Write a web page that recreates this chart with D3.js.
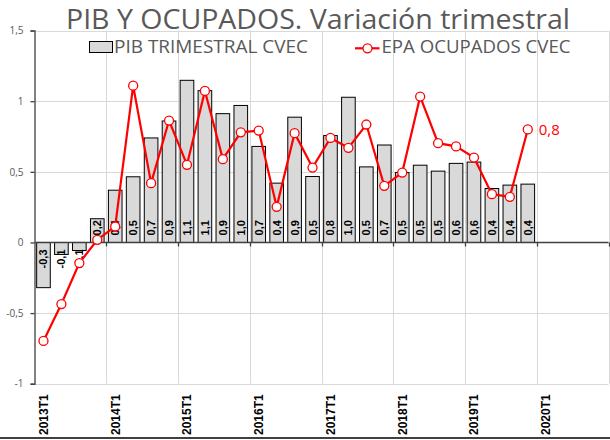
<!DOCTYPE html>
<meta charset="utf-8">
<script src="https://d3js.org/d3.v7.min.js"></script>
<style>
  body { margin: 0; background: white; }
  text { font-family: "Open Sans", sans-serif; }
</style>
<div id="chart"></div>
<script>
  // quarters shown on the axis (2013T1 .. 2020T4)
  const quarters = [
    "2013T1", "2013T2", "2013T3", "2013T4", "2014T1", "2014T2", "2014T3", "2014T4",
    "2015T1", "2015T2", "2015T3", "2015T4", "2016T1", "2016T2", "2016T3", "2016T4",
    "2017T1", "2017T2", "2017T3", "2017T4", "2018T1", "2018T2", "2018T3", "2018T4",
    "2019T1", "2019T2", "2019T3", "2019T4", "2020T1", "2020T2", "2020T3", "2020T4"
  ];
  // PIB trimestral CVEC (bars), 2013T1 .. 2019T4
  const pib = [-0.32, -0.085, -0.057, 0.168, 0.37, 0.465, 0.74, 0.86,
    1.148, 1.075, 0.912, 0.97, 0.68, 0.42, 0.887, 0.467,
    0.757, 1.028, 0.535, 0.69, 0.495, 0.547, 0.505, 0.56,
    0.569, 0.382, 0.406, 0.413];
  // EPA ocupados CVEC (line), 2013T1 .. 2019T4
  const epa = [-0.697, -0.436, -0.146, 0.019, 0.113, 1.11, 0.42, 0.863,
    0.55, 1.073, 0.59, 0.78, 0.792, 0.252, 0.774, 0.53,
    0.74, 0.67, 0.835, 0.401, 0.495, 1.033, 0.703, 0.68,
    0.601, 0.342, 0.323, 0.80];
  const yTicks = [-1, -0.5, 0, 0.5, 1, 1.5];
  const xLabels = ["2013T1", "2014T1", "2015T1", "2016T1", "2017T1", "2018T1", "2019T1", "2020T1"];
  const yearEdges = ["2013T1", "2014T1", "2015T1", "2016T1", "2017T1", "2018T1", "2019T1", "2020T1", null];

  const W = 610, H = 440;
  const es = d3.formatLocale({ decimal: ",", thousands: ".", grouping: [3], currency: ["", " €"], minus: "-" });
  const fmt1 = es.format(".1f");
  const fmtTick = es.format("~g");

  const svg = d3.select("#chart").append("svg")
    .attr("width", W)
    .attr("height", H);

  const x = d3.scaleBand()
    .domain(quarters)
    .range([34.5, 608.5])
    .paddingInner(0.24)
    .paddingOuter(0.12);
  const step = x.step();
  const edge = q => q === null ? x.range()[1] : x(q) - x.paddingOuter() * step + (x.paddingOuter() * step - 0) ;

  const y = d3.scaleLinear()
    .domain([-1, 1.5])
    .range([383.7, 30.6]);

  // year boundary positions
  const bx = q => q === null ? 608.5 : 34.5 + quarters.indexOf(q) * step;

  // horizontal gridlines
  svg.append("g")
    .selectAll("line")
    .data(yTicks)
    .join("line")
    .attr("x1", 34.5).attr("x2", 608.5)
    .attr("y1", d => Math.round(y(d)) + 0.5).attr("y2", d => Math.round(y(d)) + 0.5)
    .attr("stroke", "#d9d9d9");

  // vertical gridlines at year boundaries
  svg.append("g")
    .selectAll("line")
    .data(yearEdges.slice(1))
    .join("line")
    .attr("x1", d => Math.round(bx(d)) + 0.5).attr("x2", d => Math.round(bx(d)) + 0.5)
    .attr("y1", y(1.5)).attr("y2", y(-1))
    .attr("stroke", "#d9d9d9");

  // title
  svg.append("text")
    .attr("x", 66).attr("y", 29)
    .attr("textLength", 504)
    .attr("lengthAdjust", "spacingAndGlyphs")
    .style("font-size", "28px")
    .style("fill", "#595959")
    .text("PIB Y OCUPADOS. Variación trimestral");

  // legend
  const leg = svg.append("g");
  leg.append("rect")
    .attr("x", 89.5).attr("y", 41.5).attr("width", 23).attr("height", 11)
    .attr("fill", "#d9d9d9").attr("stroke", "#000").attr("stroke-width", 1);
  leg.append("text")
    .attr("x", 114).attr("y", 53.3)
    .attr("textLength", 194).attr("lengthAdjust", "spacingAndGlyphs")
    .style("font-size", "17.5px").style("fill", "#595959")
    .text("PIB TRIMESTRAL CVEC");
  leg.append("line")
    .attr("x1", 355).attr("x2", 379.5).attr("y1", 48.3).attr("y2", 48.3)
    .attr("stroke", "#ff0000").attr("stroke-width", 2.2);
  leg.append("circle")
    .attr("cx", 367.5).attr("cy", 48.3).attr("r", 4.5)
    .attr("fill", "#fff").attr("stroke", "#ff0000").attr("stroke-width", 1.3);
  leg.append("text")
    .attr("x", 381.5).attr("y", 53.3)
    .attr("textLength", 189).attr("lengthAdjust", "spacingAndGlyphs")
    .style("font-size", "17.5px").style("fill", "#595959")
    .text("EPA OCUPADOS CVEC");

  // bars
  const barData = pib.map((v, i) => ({ q: quarters[i], v }));
  svg.append("g")
    .selectAll("rect")
    .data(barData)
    .join("rect")
    .attr("x", d => x(d.q))
    .attr("width", x.bandwidth())
    .attr("y", d => y(Math.max(0, d.v)))
    .attr("height", d => Math.abs(y(d.v) - y(0)))
    .attr("fill", "#d9d9d9")
    .attr("stroke", "#000")
    .attr("stroke-width", 1);

  // bar labels, inside base, rotated
  svg.append("g")
    .selectAll("text")
    .data(barData)
    .join("text")
    .attr("transform", d => `translate(${x(d.q) + x.bandwidth() / 2},${d.v >= 0 ? y(0) - 7 : y(0) + 7}) rotate(-90)`)
    .attr("text-anchor", d => d.v >= 0 ? "start" : "end")
    .attr("dy", "0.36em")
    .style("font-family", "'Liberation Sans', Arial, sans-serif")
    .style("font-weight", "bold")
    .style("font-size", "11px")
    .style("fill", "#000")
    .text(d => fmt1(d.v));

  // x axis
  const xAxis = svg.append("g");
  xAxis.append("line")
    .attr("x1", 34.5).attr("x2", 608.5)
    .attr("y1", Math.round(y(0)) + 0.5).attr("y2", Math.round(y(0)) + 0.5)
    .attr("stroke", "#404040").attr("stroke-width", 1.3);
  xAxis.selectAll(".tk")
    .data(yearEdges.slice(1))
    .join("line")
    .attr("class", "tk")
    .attr("x1", d => Math.round(bx(d)) + 0.5).attr("x2", d => Math.round(bx(d)) + 0.5)
    .attr("y1", Math.round(y(0)) + 0.5).attr("y2", Math.round(y(0)) + 4.5)
    .attr("stroke", "#404040").attr("stroke-width", 1.3);
  svg.append("g")
    .selectAll("text")
    .data(xLabels)
    .join("text")
    .attr("transform", d => `translate(${x(d) + x.bandwidth() / 2},435) rotate(-90)`)
    .attr("text-anchor", "start")
    .attr("dy", "0.36em")
    .style("font-family", "'Liberation Sans', Arial, sans-serif")
    .style("font-weight", "bold")
    .style("font-size", "12px")
    .style("fill", "#000")
    .text(d => d);

  // y axis
  const yAxis = svg.append("g")
    .attr("transform", "translate(34.5,0)")
    .call(d3.axisLeft(y).tickValues(yTicks).tickSize(4).tickPadding(7).tickFormat(fmtTick));
  yAxis.select(".domain").attr("stroke", "#595959").attr("stroke-width", 1.5);
  yAxis.selectAll(".tick line").attr("stroke", "#404040").attr("stroke-width", 1.3);
  yAxis.selectAll(".tick text")
    .style("font-family", "'Open Sans', sans-serif")
    .style("font-size", "10px")
    .style("fill", "#595959");

  // line series
  const lineData = epa.map((v, i) => ({ q: quarters[i], v }));
  const cx = d => x(d.q) + x.bandwidth() / 2;
  svg.append("path")
    .datum(lineData)
    .attr("fill", "none")
    .attr("stroke", "#ff0000")
    .attr("stroke-width", 2.2)
    .attr("d", d3.line().x(cx).y(d => y(d.v)));
  svg.append("g")
    .selectAll("circle")
    .data(lineData)
    .join("circle")
    .attr("cx", cx)
    .attr("cy", d => y(d.v))
    .attr("r", 4.5)
    .attr("fill", "#fff")
    .attr("stroke", "#ff0000")
    .attr("stroke-width", 1.3);

  // last value label
  const last = lineData[lineData.length - 1];
  svg.append("text")
    .attr("x", cx(last) + 11)
    .attr("y", y(last.v))
    .attr("dy", "0.36em")
    .style("font-size", "15px")
    .style("fill", "#ff0000")
    .text(fmt1(last.v));

  // bottom border
  svg.append("line")
    .attr("x1", 0).attr("x2", W)
    .attr("y1", 438).attr("y2", 438)
    .attr("stroke", "#404040").attr("stroke-width", 2);
</script>
